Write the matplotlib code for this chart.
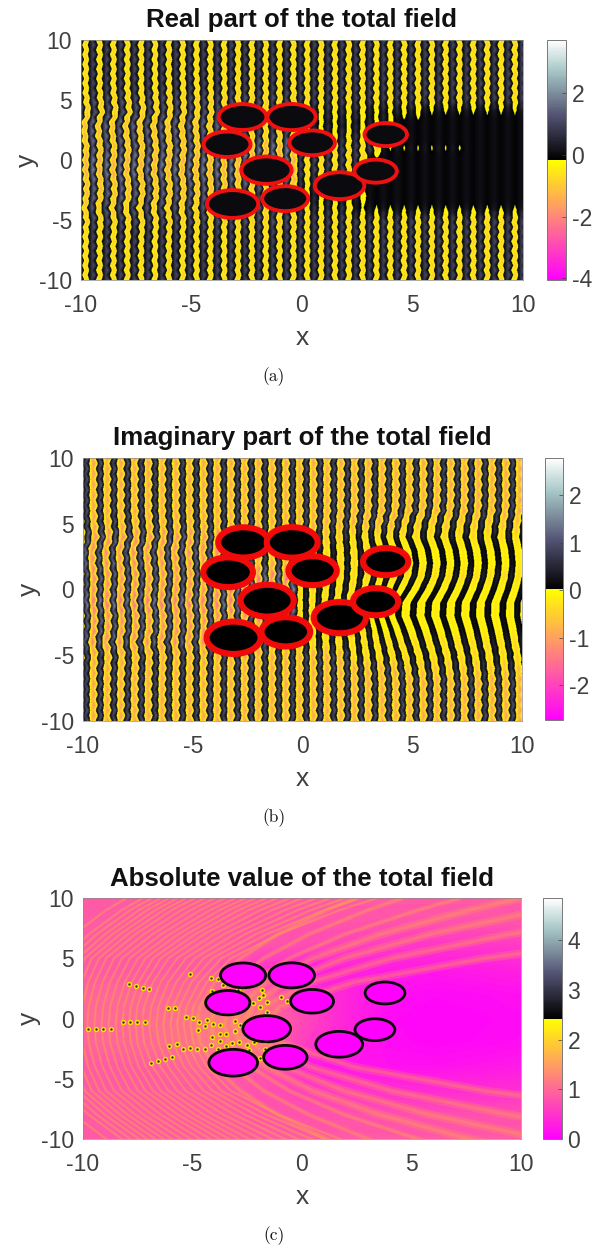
import numpy as np
import matplotlib
matplotlib.use("Agg")
import matplotlib.pyplot as plt
from matplotlib.colors import ListedColormap, Normalize
from matplotlib.cm import ScalarMappable
from matplotlib.patches import Ellipse

# NOTE: the field panels are hand-estimated approximations of the reference:
# stripe strengths, stripe offsets and the coarse |u| grid are eyeballed, the
# bead texture is a fixed repeating factor, and the fringe table was laid out
# as a smooth parabola-like family, so none of it reproduces the individual
# fringes or beads of the original computed field.
disc_x = [-2.69, -0.47, -3.39, 0.46, -1.61, -3.14, -0.76, 1.70, 3.33, 3.79]
disc_y = [3.58, 3.58, 1.31, 1.43, -0.85, -3.67, -3.22, -2.14, -0.93, 2.12]
disc_r = [1.03, 1.04, 1.01, 0.98, 1.09, 1.11, 0.99, 1.07, 0.91, 0.91]

row_y = list(range(10, -11, -1))
knot_x = [-10, -7.5, -5, -2.5, 0, 2.5, 5, 7.5, 10]

# one character per wave period, strength in quarter units, y = 10 ... -10
real_strength = [
    "4444444444444444444444444444444444",
    "4444444444444444444444444444444444",
    "4444444444444444444444444444444444",
    "4444444444444444444444444444444444",
    "4444444444444444444444444444444444",
    "5555555555555555444444444444444444",
    "5555555555555533333332222111111111",
    "6666666666644444222222200000000000",
    "6666666666655555333333300000000000",
    "6666666666677777444444111111000000",
    "7777777777777777444440000000000000",
    "7777777777777777444440000000000000",
    "6666666666666666333300000000000000",
    "6666666666644444222220000000000000",
    "5555555555555533333311111111111111",
    "5555555555555555444444444444444444",
    "4444444444444444444444444444444444",
    "4444444444444444444444444444444444",
    "4444444444444444444444444444444444",
    "4444444444444444444444444444444444",
    "4444444444444444444444444444444444",
]
imag_strength = [
    "4444444444444444444444444444444444",
    "4444444444444444444444444444444444",
    "4444444444444444444444444444444444",
    "4444444444444444444444444444444444",
    "4444444444444444444444444444444444",
    "4444444444444444444444443333333333",
    "5555555555553333333322222222222222",
    "5555555555533333222222111111111111",
    "5555555555544444222222111111111111",
    "5555555555566666222222222222222222",
    "5555555555566666222222111111111111",
    "6666666666666666222222111111111111",
    "5555555555555555222222111111111111",
    "5555555555544444222222111111111111",
    "5555555555555522222222222222222222",
    "4444444444444444444422222222222222",
    "4444444444444444444444443333333333",
    "4444444444444444444444444444444444",
    "4444444444444444444444444444444444",
    "4444444444444444444444444444444444",
    "4444444444444444444444444444444444",
]
real_shift = [
    [0, 0, 0, 0, 0, 0, 0, 0, 0], [0, 0, 0, 0, 0, 0, 0, 0, 0],
    [0, 0, 0, 0, 0, 0, 0, 0, 0], [0, 0, 0, 0, 0, 0, 0, 0, 0],
    [0, 0, 0.03, 0, 0, 0, 0, 0, 0], [0.03, 0.05, 0.03, 0, 0, 0, 0, 0, 0],
    [0.1, 0.1, 0.05, 0, 0, 0, 0, 0, 0], [-0.05, -0.08, -0.05, 0, 0, 0, 0, 0, 0],
    [-0.05, -0.03, 0, 0, 0, 0, 0, 0, 0], [0.03, 0.05, 0.05, 0, 0, 0, 0, 0, 0],
    [0, 0, 0, 0, 0, 0, 0, 0, 0], [0, -0.05, -0.05, 0, 0, 0, 0, 0, 0],
    [0.05, 0.05, 0.03, 0, 0, 0, 0, 0, 0], [0.03, 0.05, 0.03, 0, 0, 0, 0, 0, 0],
    [-0.05, -0.08, -0.05, 0, 0, 0, 0, 0, 0], [0.05, 0.05, 0.03, 0, 0, 0, 0, 0, 0],
    [0, 0.03, 0, 0, 0, 0, 0, 0, 0], [0, 0, 0, 0, 0, 0, 0, 0, 0],
    [0, 0, 0, 0, 0, 0, 0, 0, 0], [0, 0, 0, 0, 0, 0, 0, 0, 0],
    [0, 0, 0, 0, 0, 0, 0, 0, 0],
]
imag_shift = [
    [0, 0, 0, 0, 0, 0, 0, 0, 0], [0, 0, 0, 0, 0, 0, 0, 0, 0],
    [0, 0, 0, 0, 0, 0, 0, 0, 0], [0, 0, 0, 0, 0, 0, 0, 0, 0],
    [0, 0, 0, 0, 0, 0, -0.05, -0.03, -0.02], [0.03, 0.05, 0.03, 0, 0, -0.08, -0.25, -0.18, -0.12],
    [0.1, 0.1, 0.05, 0, 0, -0.1, -0.35, -0.26, -0.17], [-0.05, -0.08, -0.05, 0, 0, -0.03, -0.1, -0.08, -0.05],
    [-0.05, -0.03, 0, 0, 0, 0, 0, 0, 0], [0.03, 0.05, 0.05, 0, 0, -0.03, -0.1, -0.08, -0.05],
    [0, 0, 0, 0, 0, -0.12, -0.4, -0.3, -0.2], [0, -0.05, -0.05, 0, 0, -0.25, -0.8, -0.6, -0.4],
    [0.05, 0.05, 0.03, 0, 0, -0.25, -0.85, -0.64, -0.42], [0.03, 0.05, 0.03, 0, 0, -0.18, -0.6, -0.45, -0.3],
    [-0.05, -0.08, -0.05, 0, 0, -0.12, -0.4, -0.3, -0.2], [0.05, 0.05, 0.03, 0, 0, -0.06, -0.2, -0.15, -0.1],
    [0, 0.03, 0, 0, 0, -0.02, -0.08, -0.06, -0.04], [0, 0, 0, 0, 0, 0, 0, 0, 0],
    [0, 0, 0, 0, 0, 0, 0, 0, 0], [0, 0, 0, 0, 0, 0, 0, 0, 0],
    [0, 0, 0, 0, 0, 0, 0, 0, 0],
]
bead_factor = [1.15, 1.0, 0.85, 1.0]
bead_wiggle = [0.05, 0.0, -0.05, 0.0]

abs_grid_x = [-10, -8, -6, -4, -2, 0, 2, 4, 6, 8, 10]
abs_grid_y = [10, 8, 6, 4, 2, 0, -2, -4, -6, -8, -10]
abs_grid = [
    [0.85, 0.85, 0.85, 0.85, 0.85, 0.85, 0.85, 0.85, 0.85, 0.85, 0.85],
    [0.85, 0.85, 0.85, 0.85, 0.82, 0.8, 0.8, 0.78, 0.78, 0.78, 0.78],
    [0.85, 0.85, 0.85, 0.85, 0.78, 0.72, 0.62, 0.55, 0.5, 0.5, 0.55],
    [0.85, 0.85, 0.85, 0.85, 0.5, 0.25, 0.3, 0.25, 0.2, 0.25, 0.3],
    [0.95, 0.95, 0.95, 1.0, 0.9, 0.6, 0.35, 0.15, 0.08, 0.1, 0.15],
    [1.0, 1.0, 1.05, 1.15, 1.1, 0.7, 0.35, 0.08, 0.04, 0.06, 0.1],
    [0.95, 0.95, 1.05, 1.15, 1.1, 0.6, 0.3, 0.1, 0.05, 0.08, 0.12],
    [0.85, 0.85, 0.9, 0.95, 0.8, 0.3, 0.2, 0.15, 0.15, 0.2, 0.25],
    [0.85, 0.85, 0.85, 0.85, 0.78, 0.65, 0.55, 0.45, 0.42, 0.42, 0.45],
    [0.85, 0.85, 0.85, 0.85, 0.82, 0.78, 0.78, 0.75, 0.75, 0.75, 0.75],
    [0.85, 0.85, 0.85, 0.85, 0.85, 0.85, 0.85, 0.85, 0.85, 0.85, 0.85],
]
# fringe x position at given vertical distance from the fringe axis
fringe_axis_y = -0.5
fringe_d = [0, 1.5, 3.5, 5.5, 7.5, 9.5, 10.5]
fringe_bend = [0, 0, 0, 0, 0.6, 1.3, 1.8]
fringe_x = [
    [-1.75, -1.0, 2.33, 8.33, 17, 28, 35],
    [-2.2, -1.73, 0.35, 4.1, 9.5, 16.6, 20.8],
    [-2.65, -2.31, -0.79, 1.93, 5.87, 11.0, 14],
    [-3.1, -2.83, -1.64, 0.5, 3.6, 7.64, 10],
    [-3.55, -3.33, -2.35, -0.59, 1.96, 5.3, 7.25],
    [-4.15, -3.97, -3.18, -1.75, 0.32, 3.02, 4.6],
    [-4.8, -4.65, -4.0, -2.81, -1.1, 1.14, 2.45],
    [-5.1, -4.96, -4.35, -3.25, -1.65, 0.43, 1.65],
    [-5.4, -5.27, -4.7, -3.68, -2.2, -0.27, 0.86],
    [-5.7, -5.58, -5.05, -4.09, -2.7, -0.88, 0.18],
    [-6, -5.89, -5.39, -4.49, -3.19, -1.49, -0.49],
    [-6.33, -6.22, -5.75, -4.9, -3.68, -2.08, -1.14],
    [-6.65, -6.55, -6.11, -5.31, -4.16, -2.66, -1.78],
    [-6.98, -6.88, -6.46, -5.7, -4.62, -3.19, -2.35],
    [-7.3, -7.21, -6.81, -6.1, -5.07, -3.72, -2.92],
    [-7.6, -7.52, -7.14, -6.45, -5.47, -4.18, -3.41],
    [-7.9, -7.82, -7.46, -6.8, -5.86, -4.63, -3.9],
    [-8.2, -8.13, -7.78, -7.15, -6.25, -5.06, -4.36],
    [-8.5, -8.43, -8.09, -7.49, -6.63, -5.49, -4.82],
    [-8.83, -8.76, -8.43, -7.86, -7.03, -5.94, -5.3],
    [-9.15, -9.08, -8.77, -8.22, -7.42, -6.38, -5.77],
    [-9.48, -9.41, -9.11, -8.58, -7.81, -6.81, -6.22],
    [-9.8, -9.74, -9.45, -8.94, -8.2, -7.24, -6.67],
    [-10.1, -10.04, -9.76, -9.27, -8.55, -7.62, -7.07],
    [-10.4, -10.34, -10.07, -9.6, -8.9, -8.0, -7.47],
    [-10.7, -10.64, -10.38, -9.92, -9.25, -8.37, -7.86],
    [-11, -10.94, -10.69, -10.24, -9.59, -8.74, -8.24],
    [-11.33, -11.27, -11.03, -10.59, -9.96, -9.14, -8.65],
    [-11.65, -11.6, -11.36, -10.94, -10.33, -9.53, -9.06],
    [-12.3, -12.25, -12.02, -11.6, -11, -10.24, -9.8],
]
spot_x = [-9.76, -9.41, -9.07, -8.74, -8.16, -7.85, -7.52, -7.19, -7.88, -7.58, -7.28, -6.97,
          -6.9, -6.59, -6.27, -5.95, -6.06, -5.69, -5.42, -5.11, -4.78, -4.43, -4.14, -3.82,
          -6.10, -5.78, -5.30, -4.99, -4.69, -4.35, -4.73, -4.43, -5.11, -4.16, -3.82, -3.62,
          -4.12, -2.91, -1.84, -1.77, -1.96, -0.97, -0.7, -1.61, -1.92, -1.61, -2.25, -3.74,
          -4.08, -3.06, -2.83, -3.49, -3.74, -3.06, -4.12, -3.74, -3.47, -3.21, -2.88, -2.53,
          -2.18, -1.69, -2.42, -1.69, -1.92]
spot_y = [-0.9, -0.9, -0.9, -0.9, -0.32, -0.32, -0.32, -0.32, 2.84, 2.70, 2.56, 2.42,
          -3.72, -3.50, -3.39, -3.17, -2.25, -2.14, -2.56, -2.48, -2.50, -2.56, -2.23, -2.56,
          0.84, 0.84, 0.12, 0.07, -0.26, -0.10, -0.95, -0.62, 3.66, 3.39, 3.25, 2.78,
          2.31, 2.36, 2.36, 1.95, 1.67, 1.76, 1.48, 1.34, 0.98, 0.57, 1.26, -0.57,
          -0.48, -0.21, -0.54, -1.29, -1.29, -1.04, -1.51, -1.84, -2.28, -2.06, -1.92, -2.2,
          -1.92, -1.84, -2.61, -2.56, -3.3]

titles = ["Real part of the total field", "Imaginary part of the total field",
          "Absolute value of the total field"]
captions = ["(a)", "(b)", "(c)"]
axis_ticks = [-10, -5, 0, 5, 10]
cbar_ranges = [(-4.05, 3.7), (-2.74, 2.79), (0.0, 4.85)]
cbar_ticks = [[-4, -2, 0, 2], [-2, -1, 0, 1, 2], [0, 1, 2, 3, 4]]

W, H = 593, 1250
plt.rcParams["font.family"] = ["Liberation Sans", "DejaVu Sans"]
plt.rcParams["axes.unicode_minus"] = False
fig = plt.figure(figsize=(W / 100, H / 100), dpi=100)
spring = matplotlib.colormaps["spring"](np.linspace(0, 1, 128))
bone = matplotlib.colormaps["bone"](np.linspace(0, 1, 128))
cmap = ListedColormap(np.vstack([spring, bone]))
GREY = "#404040"


def px_axes(l, t, r, b):
    return fig.add_axes([l / W, 1 - b / H, (r - l) / W, (b - t) / H])


def stripes(strength, shift, first_x, first_sign, neg_scale):
    n = 74
    nodes = first_x + 0.3135 * np.arange(n)
    S = np.array([[int(c) for c in s] for s in strength], float)
    Sh = np.array(shift, float)
    fine_y = np.arange(10, -10.01, -0.2)
    ry = np.array(row_y, float)[::-1]
    X = np.zeros((len(fine_y), n))
    Z = np.zeros((len(fine_y), n))
    for r, y in enumerate(fine_y):
        s_row = np.array([np.interp(y, ry, S[::-1, j]) for j in range(S.shape[1])])
        sh_row = np.array([np.interp(y, ry, Sh[::-1, j]) for j in range(Sh.shape[1])])
        base = nodes + np.interp(nodes, knot_x, sh_row)
        for i in range(n):
            j = min(i // 2, S.shape[1] - 1)
            sign = first_sign if i % 2 == 0 else -first_sign
            par = (r + 2 * (i // 2)) % 4
            mag = max(0.1, 0.25 * s_row[j]) * (1.0 if s_row[j] < 2 else bead_factor[par])
            Z[r, i] = sign * mag * (neg_scale if sign < 0 else 1.0)
            X[r, i] = base[i] + bead_wiggle[par] * min(1.0, s_row[j] / 4) ** 2
    # resample the curved stripe mesh onto a regular raster for imshow
    xi = np.linspace(-10, 10, 900)
    yi = np.linspace(10, -10, 500)
    by_row = np.array([np.interp(xi, X[r], Z[r]) for r in range(len(fine_y))])
    img = np.array([np.interp(yi[::-1], fine_y[::-1], by_row[::-1, c]) for c in range(len(xi))]).T[::-1]
    return img


def dress(ax, cax, idx):
    vmin, vmax = cbar_ranges[idx]
    norm = Normalize(vmin, vmax)
    ax.set_xticks(axis_ticks)
    ax.set_yticks(axis_ticks)
    ax.tick_params(direction="in", length=0, labelsize=16.5, colors=GREY)
    ax.tick_params(axis="x", pad=10)
    ax.tick_params(axis="y", pad=6.5)
    for sp in ax.spines.values():
        sp.set_linewidth(0.5)
        sp.set_color("#8a8a8a")
    ax.set_xlabel("x", fontsize=19, color=GREY, labelpad=6.5)
    ax.set_ylabel("y", fontsize=19, color=GREY, labelpad=0)
    ax.set_title(titles[idx], fontsize=18.6, fontweight="bold", color="#111111", pad=9)
    cb = fig.colorbar(ScalarMappable(norm=norm, cmap=cmap), cax=cax)
    cb.set_ticks(cbar_ticks[idx])
    cb.ax.tick_params(direction="in", length=3, width=0.5, labelsize=16.5, colors=GREY, pad=4)
    cb.outline.set_linewidth(0.7)
    cb.outline.set_edgecolor("#777777")
    return norm


def show_field(ax, img, norm):
    ax.imshow(img, extent=(-10, 10, -10, 10), origin="upper", aspect="auto", cmap=cmap, norm=norm,
              interpolation="hanning", interpolation_stage="rgba")
    ax.set_xlim(-10, 10)
    ax.set_ylim(-10, 10)


def discs(ax, face, edge, lw, grow):
    for x, y, r in zip(disc_x, disc_y, disc_r):
        ax.add_patch(Ellipse((x, y), 2 * (r + grow), 2 * (r + grow), fc=face, ec=edge, lw=lw, zorder=5))


# panel (a)
ax = px_axes(81, 40, 523, 280)
cax = px_axes(547, 40, 566, 280)
norm = dress(ax, cax, 0)
show_field(ax, stripes(real_strength, real_shift, -10.105, 1, 0.95), norm)
discs(ax, "#0a0a0f", "#f01010", 2.8, 0.05)

# panel (b)
ax = px_axes(83, 458, 522, 721)
cax = px_axes(545, 458, 563, 720)
norm = dress(ax, cax, 1)
show_field(ax, stripes(imag_strength, imag_shift, -10.17, -1, 1.0), norm)
discs(ax, "#000000", "#f00a0a", 4.4, 0.12)

# panel (c)
ax = px_axes(83, 898, 521, 1139)
cax = px_axes(543, 898, 562, 1139)
norm = dress(ax, cax, 2)
gx, gy = np.meshgrid(abs_grid_x, abs_grid_y)
ax.contourf(gx, gy, np.array(abs_grid), levels=np.linspace(0, 4.85, 129), cmap=cmap, norm=norm, extend="both")
ax.set_xlim(-10, 10)
ax.set_ylim(-10, 10)
d = np.array(fringe_d)
bend = np.array(fringe_bend)
for row in fringe_x:
    row = np.array(row)
    if row[0] > -3.3:
        widths, alphas = (6.0, 2.5), (0.2, 0.25)
    elif row[0] > -4.9:
        widths, alphas = (3.5, 1.5), (0.2, 0.25)
    else:
        row = row + bend
        widths, alphas = (1.8, 0.9), (0.25, 0.3)
    xs = np.r_[row[::-1], row[1:]]
    ys = np.r_[fringe_axis_y + d[::-1], fringe_axis_y - d[1:]]
    for w, a in zip(widths, alphas):
        ax.plot(xs, ys, color="#ffb03c", alpha=a, lw=w, solid_capstyle="butt", zorder=2)
ax.scatter(spot_x, spot_y, s=15, color="#ffe000", lw=0, zorder=3)
ax.scatter(spot_x, spot_y, s=3, color="#30303a", lw=0, zorder=4)
discs(ax, "#ff00ff", "#0a0a0a", 2.0, 0.0)

for txt, y in zip(captions, [377, 818, 1236]):
    fig.text(274 / W, 1 - y / H, txt, family="cmr10", fontsize=12.5, ha="center", va="center", color="#111111")

fig.savefig("out.png", dpi=100)
